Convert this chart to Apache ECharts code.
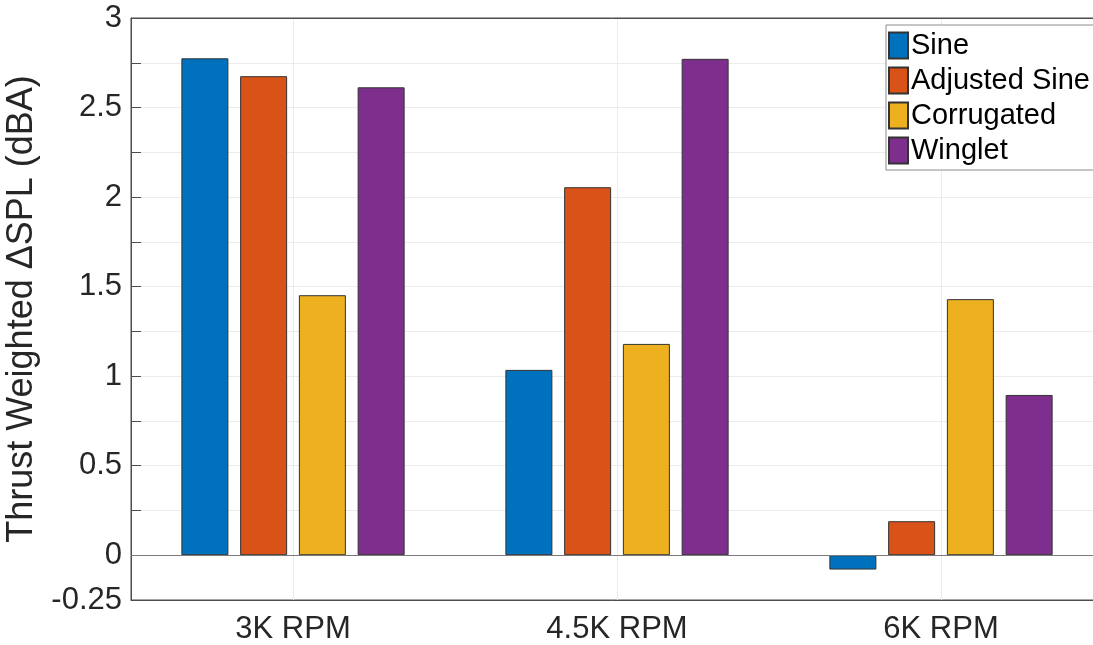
<!DOCTYPE html>
<html>
<head>
<meta charset="utf-8">
<style>
  html,body{margin:0;padding:0;background:#fff;}
  #chart{width:1093px;height:645px;}
</style>
<script src="https://cdn.jsdelivr.net/npm/echarts@6/dist/echarts.min.js"></script>
</head>
<body>
<div id="chart"></div>
<script>
  // data
  let categories = ['3K RPM', '4.5K RPM', '6K RPM']
  let sine = [2.775, 1.035, -0.08]
  let adjustedSine = [2.675, 2.055, 0.19]
  let corrugated = [1.452, 1.18, 1.43]
  let winglet = [2.613, 2.772, 0.895]
  let seriesNames = ['Sine', 'Adjusted Sine', 'Corrugated', 'Winglet']
  let colors = ['#0072BD', '#D95319', '#EDB120', '#7E2F8E']

  let font = "'Liberation Sans', Helvetica, Arial, sans-serif"
  let axisColor = '#4d4d4d'
  let textColor = '#262626'

  let chart = echarts.init(document.getElementById('chart'))

  function bar(name, data, color, extra){
    let s = {
      name: name,
      type: 'bar',
      data: data,
      barWidth: 47,
      barGap: '25%',
      itemStyle: {
        color: color,
        borderColor: '#333',
        borderWidth: 1
      }
    }
    return Object.assign(s, extra || {})
  }

  let option = {
    animation: false,
    textStyle: {fontFamily: font},
    grid: {
      left: 131,
      width: 972,
      top: 18,
      bottom: 45,
      outerBoundsMode: 'none',
      containLabel: false,
      show: true,
      borderColor: axisColor,
      borderWidth: 1,
      backgroundColor: 'transparent'
    },
    legend: {
      orient: 'vertical',
      left: 886,
      top: 25,
      padding: [6, 4, 5, 2],
      icon: 'rect',
      itemWidth: 19,
      itemHeight: 26,
      itemGap: 6,
      backgroundColor: '#fff',
      borderColor: '#8c8c8c',
      borderWidth: 1,
      borderRadius: 0,
      textStyle: {fontSize: 29, lineHeight: 26, color: '#000', fontFamily: font, padding: [0, 0, 0, -2]},
      data: seriesNames
    },
    xAxis: [{
      type: 'category',
      data: categories,
      position: 'bottom',
      axisLine: {onZero: false, lineStyle: {color: axisColor}},
      axisTick: {inside: true, length: 9, alignWithLabel: true, lineStyle: {color: axisColor}},
      axisLabel: {fontSize: 31, color: textColor, margin: 14},
      splitLine: {show: true, alignWithLabel: true, lineStyle: {color: '#ebebeb'}}
    }, {
      type: 'category',
      data: categories,
      position: 'top',
      axisLine: {onZero: false, lineStyle: {color: axisColor}},
      axisTick: {inside: true, length: 9, alignWithLabel: true, lineStyle: {color: axisColor}},
      axisLabel: {show: false}
    }],
    yAxis: {
      type: 'value',
      min: -0.25,
      max: 3,
      interval: 0.25,
      name: 'Thrust Weighted ΔSPL (dBA)',
      nameLocation: 'middle',
      nameGap: 86,
      nameTextStyle: {fontSize: 36, color: textColor},
      axisLine: {show: true, lineStyle: {color: axisColor}},
      axisTick: {show: true, inside: true, length: 10, lineStyle: {color: axisColor}},
      axisLabel: {
        fontSize: 31,
        color: textColor,
        margin: 9,
        formatter: function(v){
          if(Math.abs(v * 2 - Math.round(v * 2)) < 1e-6 || Math.abs(v + 0.25) < 1e-6){
            return String(Math.round(v * 100) / 100)
          }
          return ''
        }
      },
      splitLine: {lineStyle: {color: '#ebebeb'}}
    },
    series: [
      bar(seriesNames[0], sine, colors[0]),
      bar(seriesNames[1], adjustedSine, colors[1], {
        markLine: {
          silent: true,
          symbol: 'none',
          label: {show: false},
          lineStyle: {color: '#7a7a7a', type: 'solid', width: 1},
          data: [{yAxis: 0}]
        }
      }),
      bar(seriesNames[2], corrugated, colors[2]),
      bar(seriesNames[3], winglet, colors[3])
    ]
  }
  chart.setOption(option)
  window.onresize = function () {
    chart.resize()
  }
</script>
</body>
</html>
